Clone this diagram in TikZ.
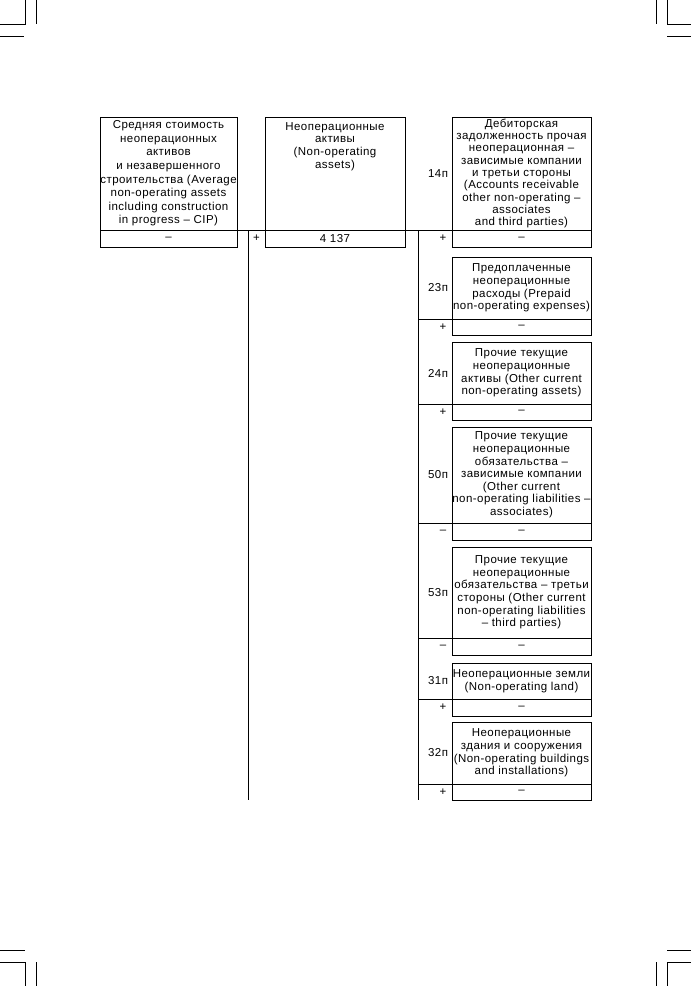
\documentclass[tikz,border=0pt]{standalone}
\usepackage{fontspec}
\setmainfont{Liberation Sans}[LetterSpace=4.0]
\begin{document}
\begin{tikzpicture}[x=1pt,y=-1pt,line width=0.9pt,
  txt/.style={font=\fontsize{11.5}{12.6}\selectfont},
  box/.style={draw,rectangle,inner sep=0pt,outer sep=0pt,anchor=north west,align=center,minimum width=139pt,txt},
  rowbox/.style={draw,rectangle,inner sep=0pt,outer sep=0pt,anchor=north west,minimum width=139pt,txt},
  lbl/.style={inner sep=0pt,outer sep=0pt,txt,anchor=east,xshift=-4pt},
  sgn/.style={inner sep=0pt,outer sep=0pt,txt},
  crop/.style={line width=0.9pt}]
\useasboundingbox (0,0) rectangle (691,986);
% crop marks
\draw[crop] (25,0) -- (25,24) -- (0,24);
\draw[crop] (36,0) -- (36,24);
\draw[crop] (0,36) -- (24,36);
\draw[crop] (667,0) -- (667,24) -- (691,24);
\draw[crop] (656,0) -- (656,24);
\draw[crop] (667,36) -- (691,36);
\draw[crop] (0,950) -- (25,950);
\draw[crop] (0,962) -- (25,962) -- (25,986);
\draw[crop] (36,962) -- (36,986);
\draw[crop] (667,950) -- (691,950);
\draw[crop] (691,962) -- (667,962) -- (667,986);
\draw[crop] (656,962) -- (656,986);

% left column
\node[box,minimum width=137pt,minimum height=113pt,font=\fontsize{11.5}{13.6}\selectfont] (lb) at (100,117)
  {Средняя стоимость\\неоперационных\\активов\\и незавершенного\\строительства (Average\\non-operating assets\\including construction\\in progress – CIP)};
\node[rowbox,minimum width=137pt,minimum height=17pt] (lr) at (lb.south west) {–};

% middle column
\node[box,minimum width=140pt,minimum height=113pt] (mb) at (265,117) {};
\node[txt,align=center,anchor=north,inner sep=0pt,yshift=-5pt] (mt) at (mb.north)
  {Неоперационные\\активы\\(Non-operating\\assets)};
\node[rowbox,minimum width=140pt,minimum height=17pt] (mr) at (mb.south west) {4 137};

% vertical lines
\coordinate (v1t) at (248,230);
\coordinate (v1b) at (248,800);
\coordinate (v2t) at (418,230);
\coordinate (v2b) at (418,800);
\draw (v1t) -- (v1b);
\draw (v2t) -- (v2b);
\node[sgn] (s0) at (256.5,238.5) {+};

% right column
\node[box,minimum height=113pt,font=\fontsize{11.5}{12.3}\selectfont] (b14) at (452,117)
  {Дебиторская\\задолженность прочая\\неоперационная –\\зависимые компании\\и третьи стороны\\(Accounts receivable\\other non-operating –\\associates\\and third parties)};
\node[rowbox,minimum height=17pt] (r14) at (b14.south west) {–};
\node[lbl] (l14) at (b14.west) {14п};
\node[sgn] (s14) at (443,238.5) {+};

\node[box,minimum height=62pt] (b23) at (452,257)
  {Предоплаченные\\неоперационные\\расходы (Prepaid\\non-operating expenses)};
\node[rowbox,minimum height=16pt] (r23) at (b23.south west) {–};
\node[lbl] (l23) at (b23.west) {23п};
\node[sgn] (s23) at (r23.west -| 443,0) {+};

\node[box,minimum height=62pt] (b24) at (452,342)
  {Прочие текущие\\неоперационные\\активы (Other current\\non-operating assets)};
\node[rowbox,minimum height=16pt] (r24) at (b24.south west) {–};
\node[lbl] (l24) at (b24.west) {24п};
\node[sgn] (s24) at (r24.west -| 443,0) {+};

\node[box,minimum height=96pt] (b50) at (452,427)
  {Прочие текущие\\неоперационные\\обязательства –\\зависимые компании\\(Other current\\non-operating liabilities –\\associates)};
\node[rowbox,minimum height=17pt] (r50) at (b50.south west) {–};
\node[lbl] (l50) at (b50.west) {50п};
\node[sgn] (s50) at (r50.west -| 443,0) {–};

\node[box,minimum height=91pt] (b53) at (452,547)
  {Прочие текущие\\неоперационные\\обязательства – третьи\\стороны (Other current\\non-operating liabilities\\– third parties)};
\node[rowbox,minimum height=17pt] (r53) at (b53.south west) {–};
\node[lbl] (l53) at (b53.west) {53п};
\node[sgn] (s53) at (r53.west -| 443,0) {–};

\node[box,minimum height=36pt] (b31) at (452,663)
  {Неоперационные земли\\(Non-operating land)};
\node[rowbox,minimum height=17pt] (r31) at (b31.south west) {–};
\node[lbl] (l31) at (b31.west) {31п};
\node[sgn] (s31) at (r31.west -| 443,0) {+};

\node[box,minimum height=62pt] (b32) at (452,722)
  {Неоперационные\\здания и сооружения\\(Non-operating buildings\\and installations)};
\node[rowbox,minimum height=16pt] (r32) at (b32.south west) {–};
\node[lbl] (l32) at (b32.west) {32п};
\node[sgn] (s32) at (r32.west -| 443,0) {+};

% row separator lines
\draw (lr.north east) -- (mr.north west);
\draw (mr.north east) -- (b14.south west);
\draw (v2t |- b23.south west) -- (b23.south west);
\draw (v2t |- b24.south west) -- (b24.south west);
\draw (v2t |- b50.south west) -- (b50.south west);
\draw (v2t |- b53.south west) -- (b53.south west);
\draw (v2t |- b31.south west) -- (b31.south west);
\draw (v2t |- b32.south west) -- (b32.south west);
\end{tikzpicture}
\end{document}
